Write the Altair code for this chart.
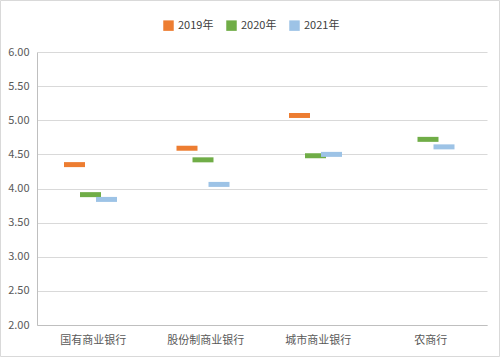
import altair as alt
import pandas as pd

categories = ["国有商业银行", "股份制商业银行", "城市商业银行", "农商行"]
series = ["2019年", "2020年", "2021年"]
v2019 = [4.35, 4.59, 5.07, None]
v2020 = [3.91, 4.42, 4.48, 4.72]
v2021 = [3.84, 4.06, 4.50, 4.61]
colors = ["#ED7D31", "#70AD47", "#9DC3E6"]
y_ticks = [2.0, 2.5, 3.0, 3.5, 4.0, 4.5, 5.0, 5.5, 6.0]

rows = []
for s, vals in zip(series, [v2019, v2020, v2021]):
    for c, v in zip(categories, vals):
        if v is not None:
            rows.append({"cat": c, "series": s, "value": v})
df = pd.DataFrame(rows)

FONT = "Noto Sans CJK SC"

ticks = alt.Chart(df).mark_tick(orient="horizontal", thickness=5, size=21, opacity=1).encode(
    x=alt.X("cat:N", sort=categories,
            scale=alt.Scale(paddingInner=0, paddingOuter=0),
            axis=alt.Axis(title=None, labelAngle=0, ticks=False, labelPadding=9,
                          domainColor="#bfbfbf", labelColor="#595959",
                          labelFontSize=11, labelFont=FONT, grid=False)),
    xOffset=alt.XOffset("series:N", sort=series,
                        scale=alt.Scale(range=[29.5, 77.5], paddingInner=0, paddingOuter=0)),
    y=alt.Y("value:Q", scale=alt.Scale(domain=[2, 6], nice=False),
            axis=alt.Axis(title=None, values=y_ticks, format=".2f", ticks=False,
                          labelPadding=8, domainColor="#bfbfbf", gridColor="#d9d9d9",
                          labelColor="#595959", labelFontSize=11, labelFont=FONT)),
    color=alt.Color("series:N", sort=series,
                    scale=alt.Scale(domain=series, range=colors),
                    legend=alt.Legend(title=None, orient="none", direction="horizontal",
                                      legendX=126, legendY=-32, symbolType="square",
                                      symbolSize=110, symbolStrokeWidth=0,
                                      labelFontSize=11, labelFont=FONT,
                                      labelColor="#404040", columnPadding=12,
                                      symbolOpacity=1)),
)

border = alt.Chart(pd.DataFrame({"a": [0]})).mark_rect(
    fill=None, stroke="#d9d9d9", strokeWidth=1, clip=False
).encode(x=alt.value(-36.5), x2=alt.value(462.5), y=alt.value(-51.5), y2=alt.value(31 + 273.5))

chart = alt.layer(border, ticks).properties(
    width=450, height=273,
    autosize=alt.AutoSizeParams(type="none"),
    padding={"left": 37, "top": 52, "right": 13, "bottom": 32},
    background="white",
).configure_view(stroke=None)

chart.save("out.html", embed_options={"renderer": "svg", "actions": False})
